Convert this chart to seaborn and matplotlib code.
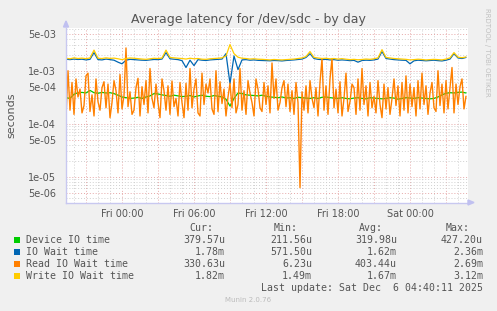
import matplotlib
matplotlib.use("Agg")
import matplotlib.pyplot as plt
import matplotlib.dates as mdates
import matplotlib.ticker as mticker
from matplotlib.patches import Rectangle, Polygon
import numpy as np
import pandas as pd
import seaborn as sns

# time window shown (5-min munin day graph)
t_start = "2025-12-04 19:20"
t_end = "2025-12-06 04:40"

# Device IO time, microseconds, 20 min samples
device_us = [310, 300, 360, 385, 390, 380, 425, 385, 375, 390,
             380, 385, 370, 345, 320, 310, 300, 305, 315, 300,
             320, 335, 370, 365, 350, 340, 330, 345, 335, 325,
             330, 340, 320, 335, 345, 330, 325, 340, 330, 320,
             290, 215, 300, 380, 370, 350, 345, 340, 335, 345,
             330, 320, 315, 310, 320, 305, 310, 300, 315, 310,
             305, 300, 310, 300, 315, 320, 310, 305, 300, 310,
             300, 295, 305, 310, 300, 295, 310, 305, 300, 295,
             300, 310, 305, 290, 300, 310, 305, 300, 310, 305,
             300, 295, 300, 320, 350, 375, 385, 380, 390, 395,
             380]

# IO Wait time, milliseconds, 20 min samples
iowait_ms = [1.65, 1.62, 1.66, 1.63, 1.65, 1.60, 1.64, 2.20, 1.62, 1.60,
             1.66, 1.62, 1.58, 1.45, 1.35, 1.58, 1.64, 1.62, 1.60, 1.58,
             1.57, 1.60, 1.63, 1.62, 1.66, 2.20, 1.68, 1.65, 1.62, 1.55,
             1.15, 1.58, 1.25, 1.62, 1.58, 1.56, 1.60, 1.62, 1.64, 1.66,
             2.10, 0.57, 1.90, 1.05, 1.60, 1.62, 1.58, 1.60, 1.57, 1.56,
             1.55, 1.54, 1.56, 1.55, 1.53, 1.56, 1.58, 1.60, 1.63, 1.66,
             1.78, 2.10, 1.70, 1.64, 1.62, 1.64, 1.60, 1.62, 1.58, 1.60,
             1.58, 1.55, 1.57, 1.45, 1.56, 1.58, 1.57, 1.60, 1.66, 2.30,
             1.70, 1.66, 1.62, 1.60, 1.58, 1.57, 1.35, 1.54, 1.58, 1.56,
             1.54, 1.56, 1.58, 1.55, 1.53, 1.58, 1.66, 2.10, 1.74, 1.70,
             1.78]

# Write IO Wait time, milliseconds, 20 min samples
write_ms = [1.72, 1.68, 1.75, 1.70, 1.73, 1.69, 1.74, 2.45, 1.72, 1.70,
            1.75, 1.71, 1.73, 1.68, 1.62, 1.70, 1.74, 1.72, 1.69, 1.66,
            1.64, 1.68, 1.72, 1.70, 1.74, 2.45, 1.78, 1.75, 1.72, 1.70,
            1.66, 1.72, 1.68, 1.70, 1.65, 1.64, 1.68, 1.70, 1.72, 1.75,
            1.90, 3.12, 2.10, 1.80, 1.72, 1.70, 1.66, 1.68, 1.65, 1.64,
            1.62, 1.60, 1.63, 1.61, 1.60, 1.62, 1.64, 1.66, 1.70, 1.74,
            1.85, 2.30, 1.78, 1.74, 1.70, 1.72, 1.68, 1.70, 1.66, 1.69,
            1.65, 1.62, 1.64, 1.61, 1.63, 1.66, 1.64, 1.68, 1.75, 2.50,
            1.78, 1.74, 1.70, 1.68, 1.66, 1.64, 1.60, 1.62, 1.65, 1.63,
            1.60, 1.62, 1.64, 1.62, 1.60, 1.66, 1.75, 2.20, 1.80, 1.76,
            1.82]

# Read IO Wait time, microseconds, 10 min samples
read_us = [130, 1000, 180, 600, 150, 700, 320, 450, 160, 220,
           800, 900, 170, 350, 140, 700, 260, 180, 480, 620,
           200, 560, 130, 250, 650, 420, 160, 850, 190, 340,
           2690, 210, 400, 150, 180, 480, 720, 140, 500, 230,
           650, 160, 1100, 300, 200, 560, 250, 130, 700, 420,
           180, 520, 150, 640, 210, 300, 140, 600, 250, 130,
           580, 180, 1100, 200, 450, 700, 160, 140, 900, 230,
           560, 380, 700, 190, 150, 1000, 170, 620, 240, 450,
           140, 320, 580, 200, 700, 160, 230, 1100, 180, 420,
           150, 650, 380, 250, 140, 700, 450, 200, 170, 600,
           230, 520, 160, 1400, 300, 700, 180, 250, 480, 650,
           210, 560, 170, 420, 150, 600, 250, 6.23, 400, 180,
           520, 160, 650, 300, 200, 480, 140, 600, 1700, 180,
           520, 150, 700, 1700, 200, 450, 160, 620, 140, 300,
           900, 170, 260, 560, 480, 150, 700, 180, 1100, 230,
           520, 140, 600, 200, 330, 160, 650, 230, 130, 560,
           190, 480, 150, 300, 700, 220, 520, 140, 600, 180,
           800, 160, 560, 210, 480, 140, 650, 190, 900, 230,
           520, 150, 380, 600, 200, 170, 1000, 220, 560, 160,
           650, 190, 480, 1150, 160, 560, 230, 500, 700, 190,
           330]

labels = ["Device IO time", "IO Wait time", "Read IO Wait time", "Write IO Wait time"]
colors = ["#00CC00", "#0066B3", "#FF8000", "#FFCC00"]
cur = ["379.57u", "1.78m", "330.63u", "1.82m"]
mins = ["211.56u", "571.50u", "6.23u", "1.49m"]
avgs = ["319.98u", "1.62m", "403.44u", "1.67m"]
maxs = ["427.20u", "2.36m", "2.69m", "3.12m"]

t20 = pd.date_range(t_start, t_end, freq="20min")
t10 = pd.date_range(t_start, t_end, freq="10min")

df20 = pd.DataFrame({"time": t20,
                     "dev": np.array(device_us) * 1e-6,
                     "wait": np.array(iowait_ms) * 1e-3,
                     "write": np.array(write_ms) * 1e-3})
df10 = pd.DataFrame({"time": t10, "read": np.array(read_us) * 1e-6})

sns.set_style("white")
plt.rcParams['font.family'] = ['DejaVu Sans']

W, H = 497, 311
def fx(x):
    return x / W
def fy(y):
    return 1 - y / H

fig = plt.figure(figsize=(W / 100, H / 100), dpi=100, facecolor="#F0F0F0")
ax = fig.add_axes([fx(66), fy(203), (468 - 66) / W, (203 - 28) / H])
ax.set_facecolor("white")

lw = 0.9
sns.lineplot(data=df20, x="time", y="dev", ax=ax, color=colors[0], lw=lw, estimator=None)
sns.lineplot(data=df20, x="time", y="wait", ax=ax, color=colors[1], lw=lw, estimator=None)
sns.lineplot(data=df10, x="time", y="read", ax=ax, color=colors[2], lw=1.0, estimator=None)
sns.lineplot(data=df20, x="time", y="write", ax=ax, color=colors[3], lw=lw, estimator=None)

ax.set_yscale("log")
ax.set_ylim(3.19e-6, 6.4e-3)
ax.set_xlim(pd.Timestamp("2025-12-04 19:20"), pd.Timestamp("2025-12-06 04:50"))
ax.set_xlabel("")
ax.set_ylabel("")

ax.yaxis.set_major_locator(mticker.FixedLocator([5e-6, 1e-5, 5e-5, 1e-4, 5e-4, 1e-3, 5e-3]))
ax.yaxis.set_major_formatter(mticker.FuncFormatter(lambda v, p: "{:.0e}".format(v)))
ax.yaxis.set_minor_locator(mticker.LogLocator(base=10, subs=[2, 3, 4, 6, 7, 8, 9], numticks=20))
ax.yaxis.set_minor_formatter(mticker.NullFormatter())

ax.xaxis.set_major_locator(mdates.HourLocator(byhour=range(0, 24, 3)))
def xfmt(v, p):
    d = mdates.num2date(v)
    return d.strftime("%a %H:%M") if d.hour % 6 == 0 else ""
ax.xaxis.set_major_formatter(mticker.FuncFormatter(xfmt))
ax.xaxis.set_minor_locator(mdates.HourLocator(interval=1))

dots = (0, (1, 2))
ax.grid(which="major", color="#E6A8A8", linestyle=dots, lw=0.7)
ax.grid(which="minor", color="#D0D0D0", linestyle=dots, lw=0.7)
ax.set_axisbelow(True)

ax.tick_params(axis="both", which="both", colors="#BBBBBB", labelcolor="#555555", labelsize=7)
ax.tick_params(axis="y", which="major", length=2, pad=5)
ax.tick_params(axis="y", which="minor", length=0)
ax.tick_params(axis="x", which="major", length=2, pad=2)
ax.tick_params(axis="x", which="minor", length=0)

for s in ["top", "right"]:
    ax.spines[s].set_visible(False)
for s in ["left", "bottom"]:
    ax.spines[s].set_color("#C8C8F0")
    ax.spines[s].set_linewidth(1)

# axis arrows
arrow_col = "#C0C0F0"
fig.add_artist(Polygon([(fx(63.5), fy(27)), (fx(68.5), fy(27)), (fx(66), fy(21))],
                       closed=True, transform=fig.transFigure, color=arrow_col))
fig.add_artist(Polygon([(fx(468), fy(200)), (fx(468), fy(205)), (fx(474), fy(202.5))],
                       closed=True, transform=fig.transFigure, color=arrow_col))

fig.text(fx(248.5), fy(19), "Average latency for /dev/sdc - by day", ha="center", va="center",
         fontsize=9, color="#555555")
fig.text(fx(11), fy(115), "seconds", rotation=90, ha="center", va="center",
         fontsize=8, color="#555555")
fig.text(fx(487.5), fy(52), "RRDTOOL / TOBI OETIKER", rotation=270, ha="center", va="center",
         fontsize=5, color="#C0C0C0")

mono = dict(family="DejaVu Sans Mono", fontsize=7.1, color="#555555", va="center")
fig.text(fx(213), fy(228), "Cur:", ha="right", **mono)
fig.text(fx(298), fy(228), "Min:", ha="right", **mono)
fig.text(fx(383), fy(228), "Avg:", ha="right", **mono)
fig.text(fx(470), fy(228), "Max:", ha="right", **mono)

rows_y = [240, 252, 264, 276]
for i in range(4):
    y = rows_y[i]
    fig.add_artist(Rectangle((fx(14), fy(y + 3)), 6 / W, 6 / H, transform=fig.transFigure,
                             facecolor=colors[i], edgecolor="none"))
    fig.text(fx(26), fy(y), labels[i], ha="left", **mono)
    fig.text(fx(225), fy(y), cur[i], ha="right", **mono)
    fig.text(fx(312), fy(y), mins[i], ha="right", **mono)
    fig.text(fx(397), fy(y), avgs[i], ha="right", **mono)
    fig.text(fx(483), fy(y), maxs[i], ha="right", **mono)

fig.text(fx(483), fy(288), "Last update: Sat Dec  6 04:40:11 2025", ha="right", **mono)
fig.text(fx(248), fy(300), "Munin 2.0.76", ha="center", va="center", fontsize=5, color="#BBBBBB")

fig.savefig("out.png", dpi=100, facecolor=fig.get_facecolor())
